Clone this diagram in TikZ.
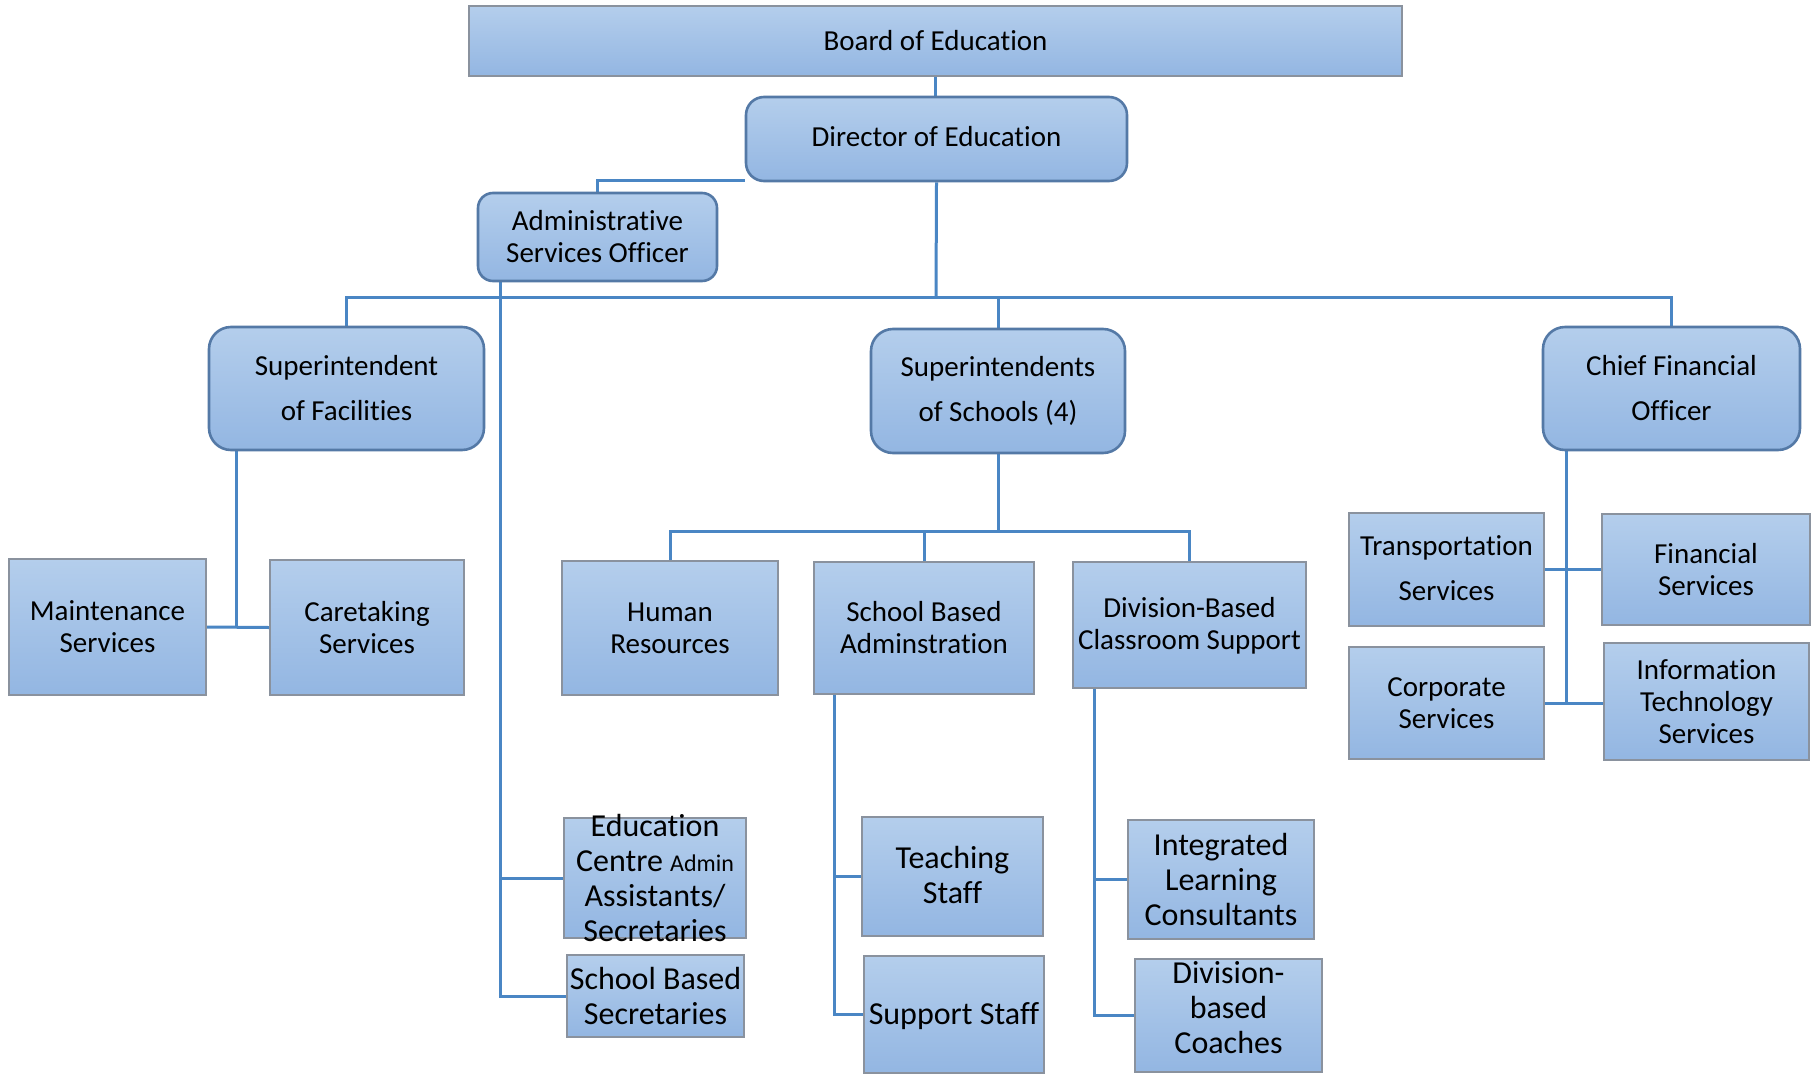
\documentclass[tikz,border=0pt]{standalone}
\usepackage{fontspec}
\setmainfont{Carlito}[Ligatures=NoCommon]
\usetikzlibrary{backgrounds}
\definecolor{boxtop}{HTML}{B4CEEC}
\definecolor{boxbot}{HTML}{93B6E2}
\definecolor{sqline}{HTML}{8A929E}
\definecolor{rndline}{HTML}{5479A6}
\definecolor{connc}{HTML}{4A86C4}
\tikzset{
  sqbox/.style={draw=sqline, line width=2.2pt, top color=boxtop, bottom color=boxbot, inner sep=0pt},
  rndbox/.style={draw=rndline, line width=2.6pt, top color=boxtop, bottom color=boxbot, inner sep=0pt, rounded corners=18pt},
  conn/.style={draw=connc, line width=3pt},
  lbl/.style={align=center, inner sep=0pt, text=black, font={\fontsize{29}{32}\selectfont}},
  lblwide/.style={align=center, inner sep=0pt, text=black, font={\fontsize{29}{45}\selectfont}},
  lblbig/.style={align=center, inner sep=0pt, text=black, font={\fontsize{32}{35}\selectfont}}
}
\begin{document}
\begin{tikzpicture}[x=1pt,y=-1pt]
\useasboundingbox (0,0) rectangle (1811,1073);
% boxes
\path
  (935.5,41)  node[sqbox, minimum width=933pt, minimum height=70pt] (board) {}
  (936.5,139) node[rndbox, minimum width=381pt, minimum height=84pt] (dir) {}
  (597.5,237) node[rndbox, rounded corners=15pt, minimum width=239pt, minimum height=88pt] (aso) {}
  (346.5,388.5) node[rndbox, rounded corners=22pt, minimum width=275pt, minimum height=123pt] (supf) {}
  (998,391)   node[rndbox, rounded corners=22pt, minimum width=254pt, minimum height=124pt] (sups) {}
  (1671.5,388.5) node[rndbox, rounded corners=22pt, minimum width=257pt, minimum height=123pt] (cfo) {};
\path
  (107.5,627) node[sqbox, minimum width=197pt, minimum height=136pt] (maint) {}
  (367,627.5) node[sqbox, minimum width=194pt, minimum height=135pt] (care) {}
  (670,628)   node[sqbox, minimum width=216pt, minimum height=134pt] (hr) {}
  (924,628)   node[sqbox, minimum width=220pt, minimum height=132pt] (sba) {}
  (1189.5,625) node[sqbox, minimum width=233pt, minimum height=126pt] (dbc) {}
  (1446.5,569.5) node[sqbox, minimum width=195pt, minimum height=113pt] (trans) {}
  (1706,569.5) node[sqbox, minimum width=208pt, minimum height=111pt] (fin) {}
  (1446.5,703) node[sqbox, minimum width=195pt, minimum height=112pt] (corp) {}
  (1706.5,701.5) node[sqbox, minimum width=205pt, minimum height=117pt] (it) {}
  (655,878)   node[sqbox, minimum width=182pt, minimum height=120pt] (eca) {}
  (655.5,996) node[sqbox, minimum width=177pt, minimum height=82pt] (sbs) {}
  (952.5,876.5) node[sqbox, minimum width=181pt, minimum height=119pt] (teach) {}
  (954,1014.5) node[sqbox, minimum width=180pt, minimum height=117pt] (supp) {}
  (1221,879.5) node[sqbox, minimum width=186pt, minimum height=119pt] (ilc) {}
  (1228.5,1015.5) node[sqbox, minimum width=187pt, minimum height=113pt] (dbco) {};
% connectors, behind the boxes
\begin{scope}[on background layer]
\fill[white] (0,0) rectangle (1811,1073);
\coordinate (j1) at (936,297);
\coordinate (j2) at (998,531);
\coordinate (av) at ([xshift=24pt]aso.south west);
\coordinate (fv) at ([xshift=29pt]supf.south west);
\coordinate (sv) at ([xshift=22pt]sba.south west);
\coordinate (dv) at ([xshift=23pt]dbc.south west);
\coordinate (cv) at ([xshift=25pt]cfo.south west);
\coordinate (dl) at ([yshift=2pt]dir.south west);
\draw[conn] (board.south) -- (board.south |- dir.north);
\draw[conn] (dl) -| (aso.north);
\draw[conn] (dir.south) -- (j1);
\draw[conn] (supf.north) |- (j1) -| (cfo.north);
\draw[conn] (j1 -| sups.north) -- (sups.north);
\draw[conn] (av) |- (sbs.west);
\draw[conn] (av |- eca.west) -- (eca.west);
\draw[conn] (fv) -- (fv |- maint.east);
\draw[conn] (maint.east) -- (care.west);
\draw[conn] (sups.south) -- (j2);
\draw[conn] (hr.north) |- (j2) -| (dbc.north);
\draw[conn] (j2 -| sba.north) -- (sba.north);
\draw[conn] (sv) |- (supp.west);
\draw[conn] (sv |- teach.west) -- (teach.west);
\draw[conn] (dv) |- (dbco.west);
\draw[conn] (dv |- ilc.west) -- (ilc.west);
\draw[conn] (cv) -- (cv |- corp.east);
\draw[conn] (trans.east) -- (fin.west);
\draw[conn] (corp.east) -- (corp.east -| it.west);
\end{scope}
% texts
\node[lbl] (board-t) at (board) {Board of Education};
\node[lbl] (dir-t) at ([yshift=2pt]dir) {Director of Education};
\node[lbl] (aso-t) at (aso) {Administrative\\Services Officer};
\node[lblwide] (supf-t) at (supf) {Superintendent\\of Facilities};
\node[lblwide] (sups-t) at (sups) {Superintendents\\of Schools (4)};
\node[lblwide] (cfo-t) at (cfo) {Chief Financial\\Officer};
\node[lbl] (maint-t) at (maint) {Maintenance\\Services};
\node[lbl] (care-t) at (care) {Caretaking\\Services};
\node[lbl] (hr-t) at (hr) {Human\\Resources};
\node[lbl] (sba-t) at (sba) {School Based\\Adminstration};
\node[lbl] (dbc-t) at ([yshift=-1pt]dbc) {Division-Based\\Classroom Support};
\node[lblwide] (trans-t) at ([yshift=1pt]trans) {Transportation\\Services};
\node[lbl] (fin-t) at (fin) {Financial\\Services};
\node[lbl] (corp-t) at (corp) {Corporate\\Services};
\node[lbl] (it-t) at (it) {Information\\Technology\\Services};
\node[lblbig] (eca-t) at (eca) {Education\\Centre {\fontsize{24}{35}\selectfont Admin}\\Assistants/\\Secretaries};
\node[lblbig] (sbs-t) at (sbs) {School Based\\Secretaries};
\node[lblbig] (teach-t) at ([yshift=2pt]teach) {Teaching\\Staff};
\node[lblbig] (supp-t) at ([yshift=-2pt]supp) {Support Staff};
\node[lblbig] (ilc-t) at (ilc) {Integrated\\Learning\\Consultants};
\node[lblbig] (dbco-t) at ([yshift=8pt]dbco) {Division-\\based\\Coaches};
\end{tikzpicture}
\end{document}
